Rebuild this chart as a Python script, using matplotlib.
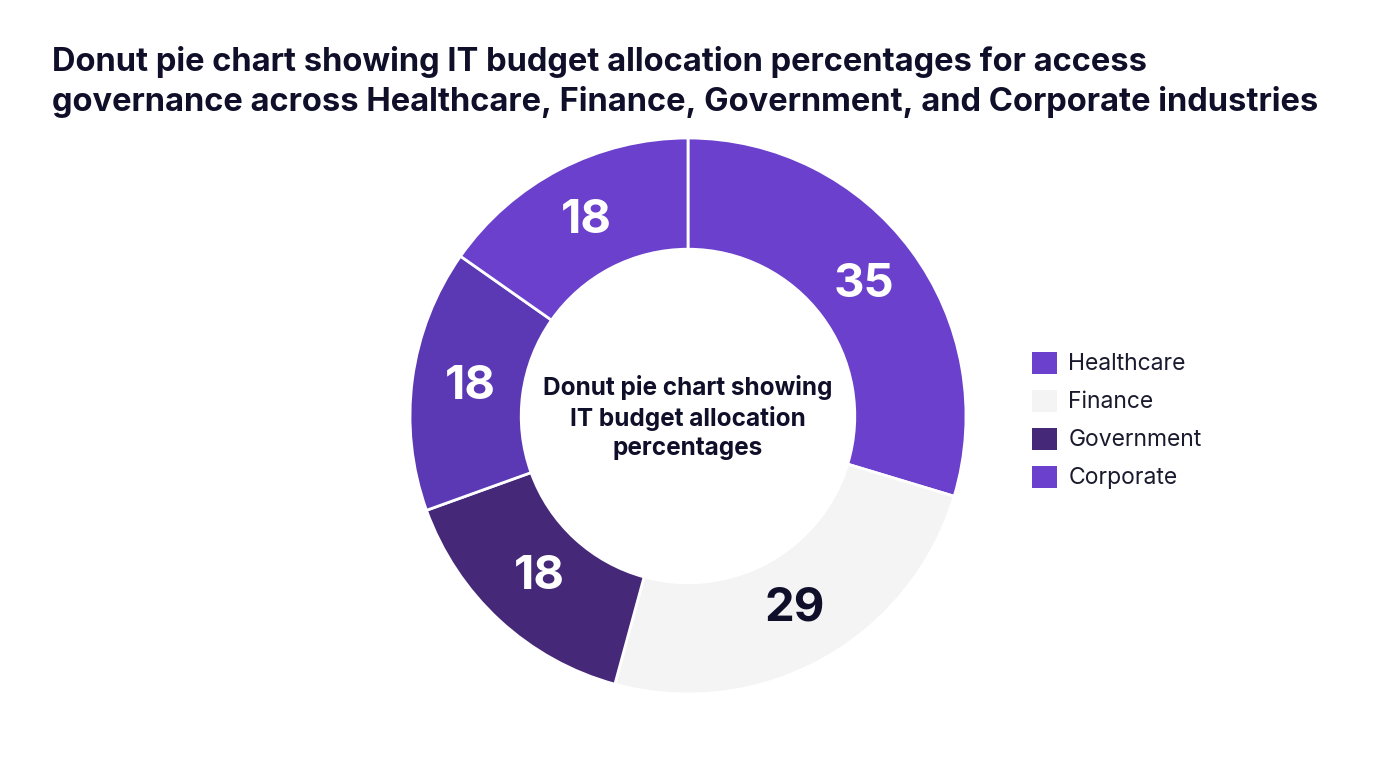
import matplotlib
matplotlib.use("Agg")
from matplotlib import pyplot as plt
from matplotlib.patches import Patch
import numpy as np

plt.rcParams['font.family'] = ['Inter', 'DejaVu Sans']

# data
slice_values = [35, 29, 18, 18, 18]
slice_colors = ['#6A40CC', '#F4F4F4', '#452878', '#5B39B4', '#6A40CC']
label_colors = ['white', '#0F0F2A', 'white', 'white', 'white']
legend_names = ['Healthcare', 'Finance', 'Government', 'Corporate']
legend_colors = ['#6A40CC', '#F4F4F4', '#452878', '#6A40CC']

title = ("Donut pie chart showing IT budget allocation percentages for access\n"
         "governance across Healthcare, Finance, Government, and Corporate industries")
center_text = "Donut pie chart showing\nIT budget allocation\npercentages"

W, H = 1376, 768
fig = plt.figure(figsize=(W/100, H/100), dpi=100)
fig.patch.set_facecolor('white')

cx, cy, r = 688, 416, 278
ax = fig.add_axes([(cx-r)/W, (H-cy-r)/H, 2*r/W, 2*r/H])

wedges, texts = ax.pie(slice_values, colors=slice_colors, startangle=90, counterclock=False,
                       radius=1, wedgeprops=dict(width=0.40, edgecolor='white', linewidth=2))
ax.set_xlim(-1, 1)
ax.set_ylim(-1, 1)
ax.set_aspect('equal')
ax.axis('off')

total = sum(slice_values)
ang = 90
for v, c in zip(slice_values, label_colors):
    mid = np.deg2rad(ang - v/total*360/2)
    ang -= v/total*360
    ax.text(0.79*np.cos(mid), 0.79*np.sin(mid), str(v), ha='center', va='center',
            fontsize=34, fontweight='bold', color=c)

ax.text(0, -0.005, center_text, ha='center', va='center', fontsize=17.5, fontweight='bold',
        color='#0F0F2A', linespacing=1.3)

fig.text(52/W, 1-46/H, title, ha='left', va='top', fontsize=23.5, fontweight='bold',
         color='#0F0F2A', linespacing=1.3)

handles = [Patch(facecolor=c, edgecolor='none') for c in legend_colors]
fig.legend(handles, legend_names, loc='center left', bbox_to_anchor=(1011/W, 1-420.5/H),
           frameon=False, fontsize=16.5, handlelength=1.1, handleheight=1.1,
           handletextpad=0.5, labelspacing=0.62, labelcolor='#1A1A2E')

fig.savefig('out.png', dpi=100, facecolor='white')
